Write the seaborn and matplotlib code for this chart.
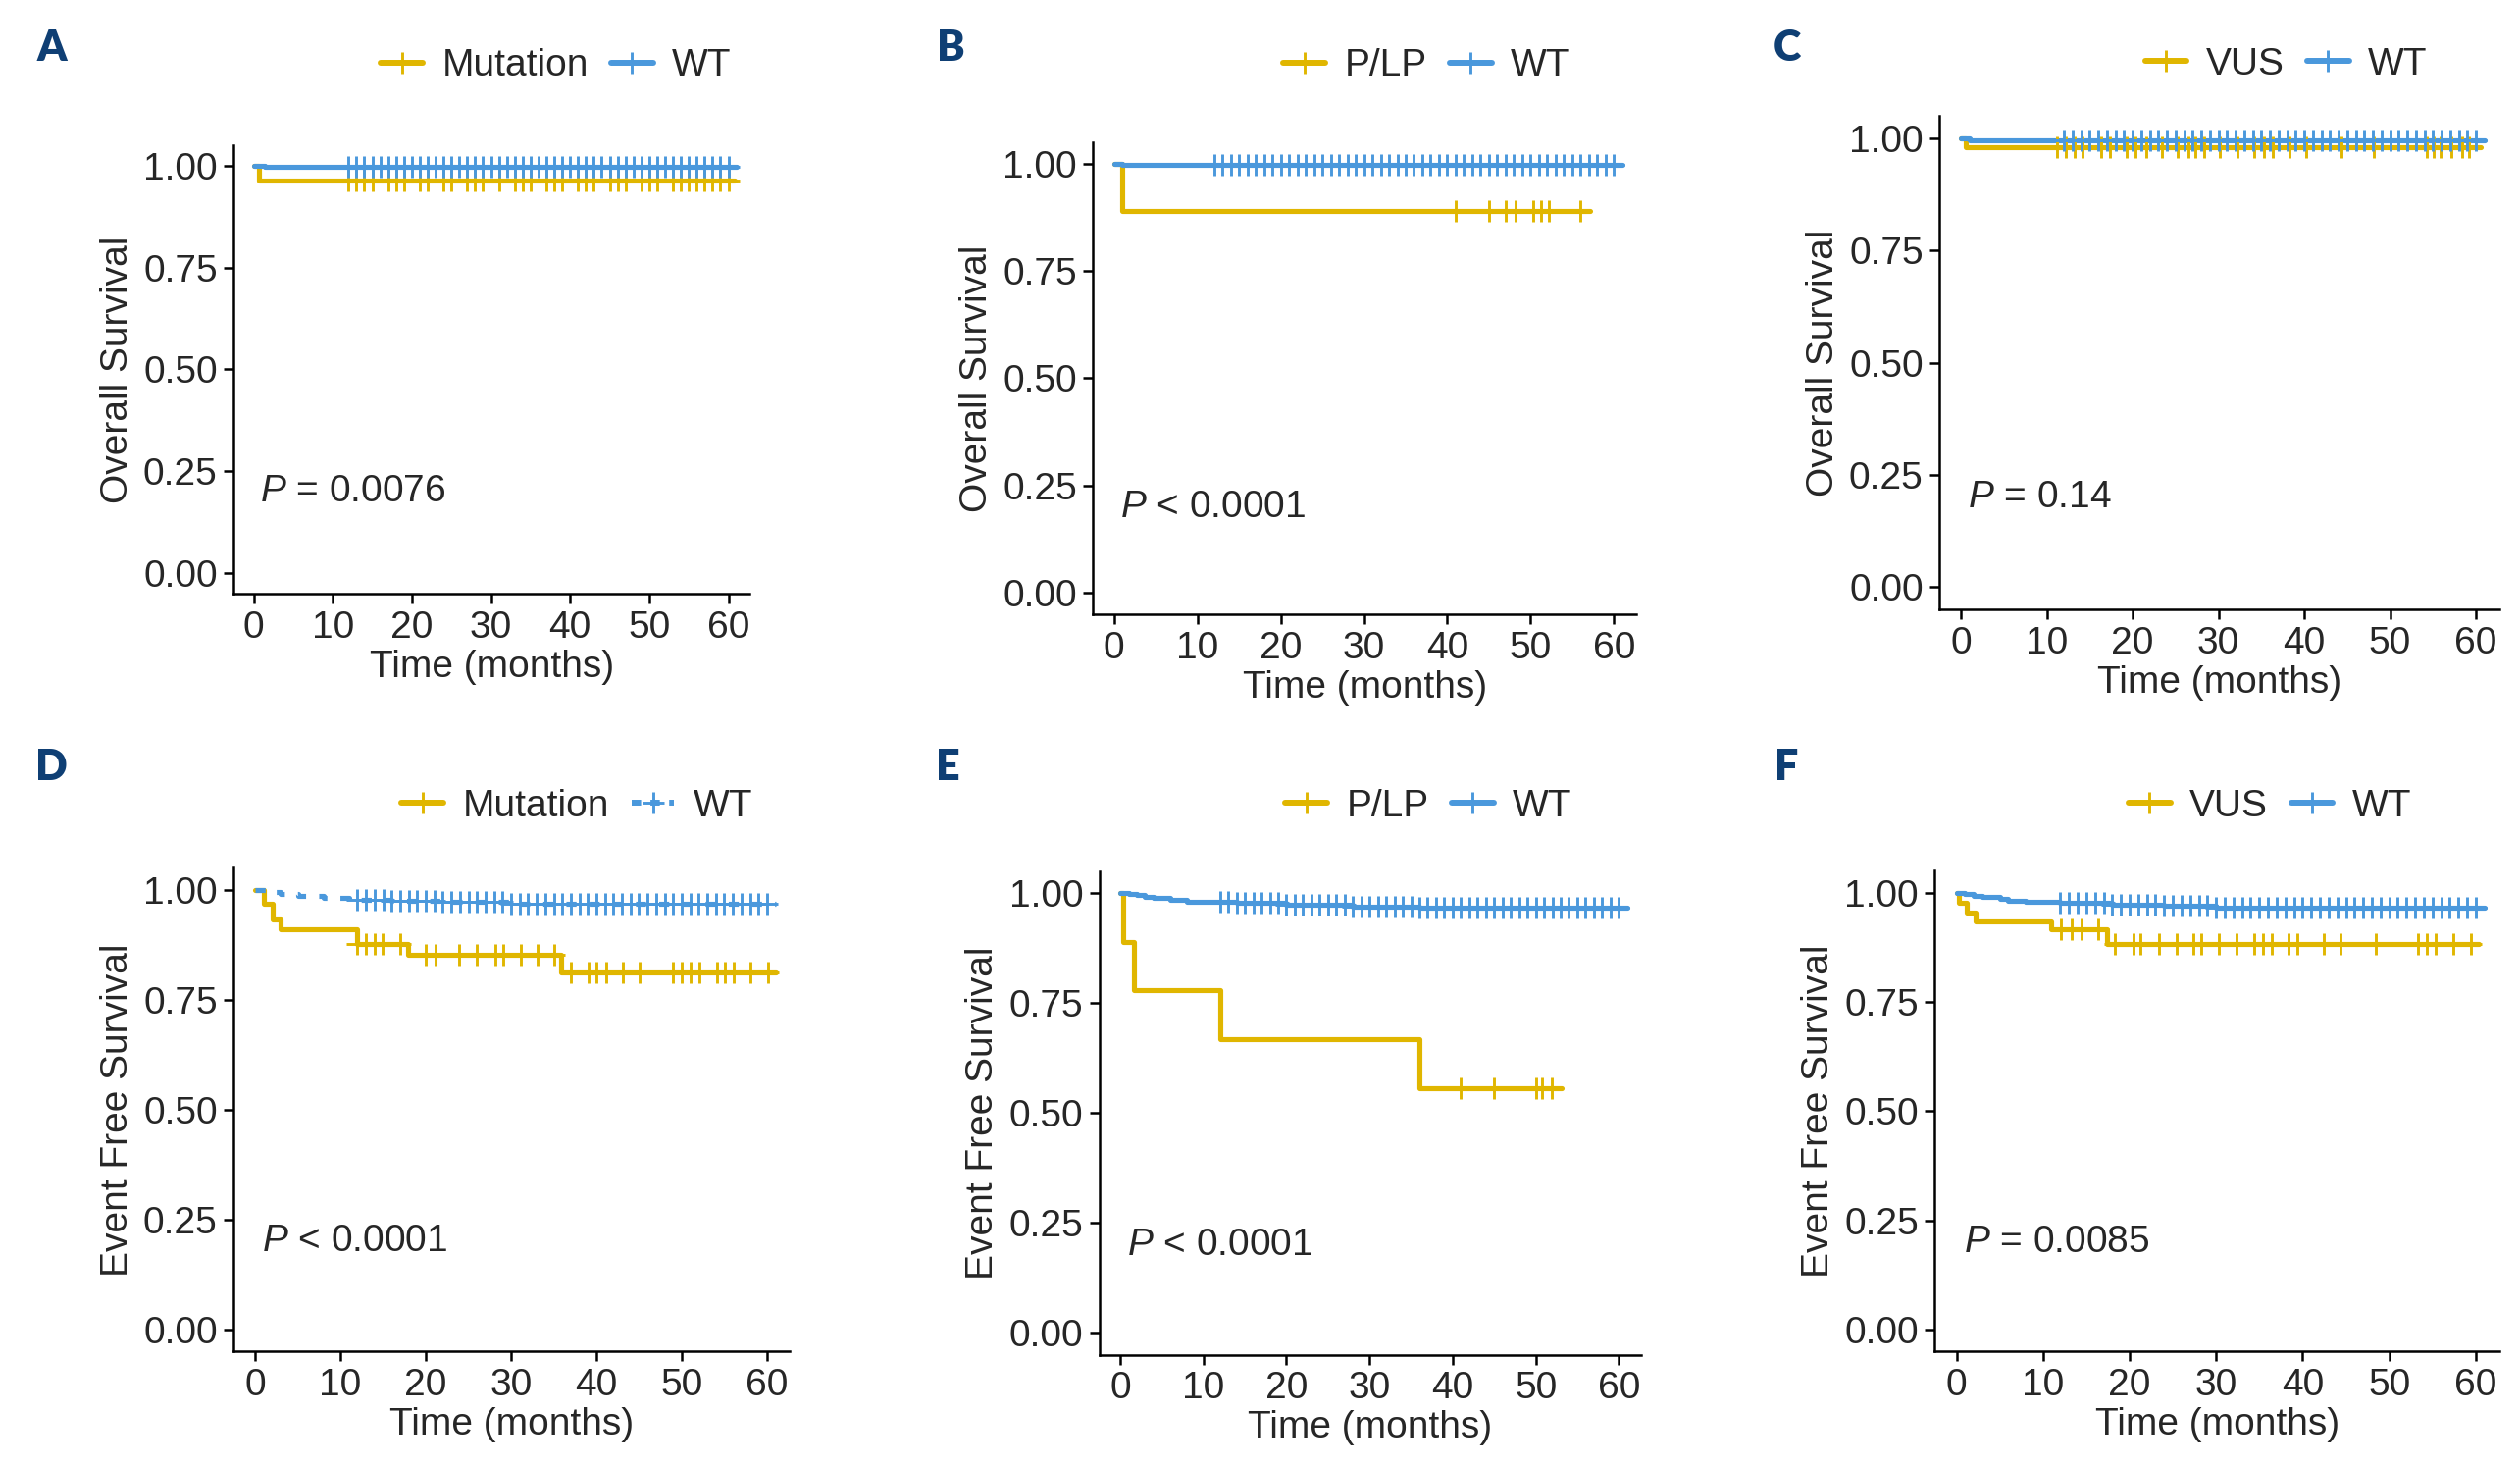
import numpy as np
import pandas as pd
import matplotlib.pyplot as plt
import seaborn as sns
from matplotlib.lines import Line2D

sns.set_style('ticks')
plt.rcParams['font.family'] = ['Liberation Sans', 'DejaVu Sans']
plt.rcParams['mathtext.fontset'] = 'custom'
plt.rcParams['mathtext.it'] = 'Liberation Sans:italic'
plt.rcParams['mathtext.rm'] = 'Liberation Sans'

YELLOW = '#E0B600'
BLUE = '#4A98DC'
NAVY = '#0F3F74'

# censoring of the WT group, about one patient each month
wt_cens = [12, 13, 14, 15, 16, 17, 18, 19, 20, 21, 22, 23, 24, 25, 26, 27, 28,
           29, 30, 31, 32, 33, 34, 35, 36, 37, 38, 39, 40, 41, 42, 43, 44, 45,
           46, 47, 48, 49, 50, 51, 52, 53, 54, 55, 56, 57, 58, 59, 60]

# A: overall survival, mutation vs WT
a_mut_time = [0, 0.7]
a_mut_surv = [1.0, 0.964]
a_mut_end = 60.8
a_mut_cens = [12, 13, 14, 15, 17, 18, 19, 21, 22, 24, 25, 27, 28, 29, 31, 33, 34,
              35, 37, 38, 39, 41, 42, 43, 45, 46, 47, 49, 50, 51, 53, 54, 55, 56,
              57, 58, 59, 60]
a_wt_time = [0, 1.4]
a_wt_surv = [1.0, 0.996]
a_wt_end = 61.0

# B: overall survival, P/LP vs WT
b_plp_time = [0, 1.0]
b_plp_surv = [1.0, 0.889]
b_plp_end = 57.1
b_plp_cens = [41, 45, 47, 48.2, 50.3, 51.3, 52.2, 56]
b_wt_time = [0, 1.0]
b_wt_surv = [1.0, 0.997]
b_wt_end = 61.0

# C: overall survival, VUS vs WT
c_vus_time = [0, 0.5]
c_vus_surv = [1.0, 0.981]
c_vus_end = 60.6
c_vus_cens = [11.2, 12.2, 13.2, 14.2, 16.3, 17.3, 19.3, 20.3, 21.6, 23.4, 25.2,
              26.5, 27.3, 28.3, 30.2, 32.2, 34.2, 35.3, 36.3, 38.3, 40.2, 44.3,
              48.1, 54.3, 55.1, 55.9, 57.1, 58.4, 59.2]
c_wt_time = [0, 1.0]
c_wt_surv = [1.0, 0.997]
c_wt_end = 61.0

# D: event free survival, mutation vs WT
d_mut_time = [0, 1.0, 2.0, 3.0, 11.9, 17.9, 35.9]
d_mut_surv = [1.0, 0.967, 0.933, 0.910, 0.877, 0.851, 0.812]
d_mut_end = 61.0
d_mut_cens = [12, 13, 14, 14.9, 17, 20, 21.1, 23.9, 26, 28.1, 29.1, 31.1, 33.1,
              35, 37, 39.1, 40, 41.1, 43.1, 45.1, 49, 50, 51, 52.1, 54.1, 55.1,
              56.1, 58.1, 60.1]
d_wt_time = [0, 1.5, 3, 5, 8, 11, 16, 22, 30, 40]
d_wt_surv = [1.0, 0.995, 0.99, 0.986, 0.982, 0.978, 0.975, 0.972, 0.969, 0.967]
d_wt_end = 61.0

# E: event free survival, P/LP vs WT
e_plp_time = [0, 0.4, 1.6, 12.0, 36.0]
e_plp_surv = [1.0, 0.889, 0.778, 0.667, 0.556]
e_plp_end = 53.1
e_plp_cens = [40.9, 45, 50, 50.8, 51.9]
e_wt_time = [0, 1, 2, 3, 4, 6, 8, 14, 20, 28, 36]
e_wt_surv = [1.0, 0.998, 0.995, 0.992, 0.988, 0.984, 0.98, 0.977, 0.973, 0.969, 0.966]
e_wt_end = 61.0

# F: event free survival, VUS vs WT
f_vus_time = [0, 0.3, 1.2, 2.2, 10.9, 17.4]
f_vus_surv = [1.0, 0.976, 0.955, 0.933, 0.915, 0.882]
f_vus_end = 60.4
f_vus_cens = [12.1, 13.3, 14.4, 16.4, 18.3, 20.4, 21.3, 23.4, 25.4, 27.4, 28.3,
              30.3, 32.4, 34.4, 35.4, 36.4, 38.4, 39.4, 42.4, 44.4, 48.4, 53.3,
              54.4, 55.4, 57.4, 59.4]
f_wt_time = [0, 1, 2, 3, 5, 6, 8, 12, 18, 24, 30]
f_wt_surv = [1.0, 0.997, 0.993, 0.99, 0.986, 0.982, 0.979, 0.976, 0.973, 0.97, 0.966]
f_wt_end = 61.0

p_texts = ['$P$ = 0.0076', '$P$ < 0.0001', '$P$ = 0.14',
           '$P$ < 0.0001', '$P$ < 0.0001', '$P$ = 0.0085']
panel_letters = ['A', 'B', 'C', 'D', 'E', 'F']
group_names = [['Mutation', 'WT'], ['P/LP', 'WT'], ['VUS', 'WT'],
               ['Mutation', 'WT'], ['P/LP', 'WT'], ['VUS', 'WT']]
y_titles = ['Overall Survival'] * 3 + ['Event Free Survival'] * 3

curves = [
    [(a_mut_time, a_mut_surv, a_mut_end, a_mut_cens), (a_wt_time, a_wt_surv, a_wt_end, wt_cens)],
    [(b_plp_time, b_plp_surv, b_plp_end, b_plp_cens), (b_wt_time, b_wt_surv, b_wt_end, wt_cens)],
    [(c_vus_time, c_vus_surv, c_vus_end, c_vus_cens), (c_wt_time, c_wt_surv, c_wt_end, wt_cens)],
    [(d_mut_time, d_mut_surv, d_mut_end, d_mut_cens), (d_wt_time, d_wt_surv, d_wt_end, wt_cens)],
    [(e_plp_time, e_plp_surv, e_plp_end, e_plp_cens), (e_wt_time, e_wt_surv, e_wt_end, wt_cens)],
    [(f_vus_time, f_vus_surv, f_vus_end, f_vus_cens), (f_wt_time, f_wt_surv, f_wt_end, wt_cens)],
]

# layout (figure fractions)
axes_rects = [(0.0928, 0.595, 0.2047, 0.306), (0.4338, 0.5809, 0.2156, 0.3223),
              (0.7697, 0.5842, 0.222, 0.3366), (0.0928, 0.0781, 0.2207, 0.33),
              (0.4363, 0.0759, 0.215, 0.33), (0.7678, 0.0781, 0.2239, 0.328)]
legend_pos = [(0.2207, 0.955), (0.5662, 0.955), (0.9072, 0.956),
              (0.229, 0.45), (0.5669, 0.45), (0.9008, 0.45)]
letter_pos = [(0.0205, 0.967), (0.3775, 0.967), (0.709, 0.967),
              (0.0205, 0.4763), (0.376, 0.4763), (0.709, 0.4763)]

FS = 28
LW = 3.7
MEW = 2.1


def km(ax, time, surv, end, cens, color, dashed=False):
    df = pd.DataFrame({'time': time + [end], 'surv': surv + [surv[-1]]})
    sns.lineplot(data=df, x='time', y='surv', ax=ax, color=color, lw=LW,
                 drawstyle='steps-post', estimator=None, sort=False)
    if dashed:
        ax.lines[-1].set_dashes((2.0, 2.6))
    idx = np.searchsorted(time, cens, side='right') - 1
    cdf = pd.DataFrame({'time': cens, 'surv': np.array(surv)[idx]})
    sns.scatterplot(data=cdf, x='time', y='surv', ax=ax, color=color,
                    marker='+', s=250, linewidth=MEW, zorder=3)


fig = plt.figure(figsize=(25.69, 14.94))

for i in range(6):
    ax = fig.add_axes(axes_rects[i])
    dashed_wt = (i == 3)
    km(ax, *curves[i][0], YELLOW)
    km(ax, *curves[i][1], BLUE, dashed=dashed_wt)

    ax.set_xlim(-2.5, 62.7)
    ax.set_ylim(-0.05, 1.05)
    ax.set_xticks([0, 10, 20, 30, 40, 50, 60])
    ax.set_yticks([0, 0.25, 0.5, 0.75, 1.0])
    ax.set_yticklabels(['0.00', '0.25', '0.50', '0.75', '1.00'])
    ax.tick_params(labelsize=FS, length=7, width=1.8, pad=5, color='black')
    for s in ['left', 'bottom']:
        ax.spines[s].set_linewidth(1.8)
        ax.spines[s].set_color('black')
    sns.despine(ax=ax)
    ax.set_xlabel('Time (months)', fontsize=FS, labelpad=3)
    ax.set_ylabel(y_titles[i], fontsize=FS, labelpad=6)
    ax.text(0.8, 0.2, p_texts[i], fontsize=FS, ha='left', va='center')

    handles = [
        Line2D([], [], color=YELLOW, lw=LW + 0.6, marker='+', markersize=16, mew=MEW),
        Line2D([], [], color=BLUE, lw=LW + 0.6, marker='+', markersize=16, mew=MEW),
    ]
    if dashed_wt:
        handles[1].set_dashes((1.6, 1.6))
    fig.legend(handles, group_names[i], loc='center', bbox_to_anchor=legend_pos[i],
               ncol=2, frameon=False, fontsize=FS, handlelength=1.1,
               handletextpad=0.5, columnspacing=0.6)

    fig.text(letter_pos[i][0], letter_pos[i][1], panel_letters[i], fontsize=31,
             fontweight='heavy', family=['Lato', 'Liberation Sans'], color=NAVY,
             ha='center', va='center')

fig.savefig('out.png', dpi=100)
